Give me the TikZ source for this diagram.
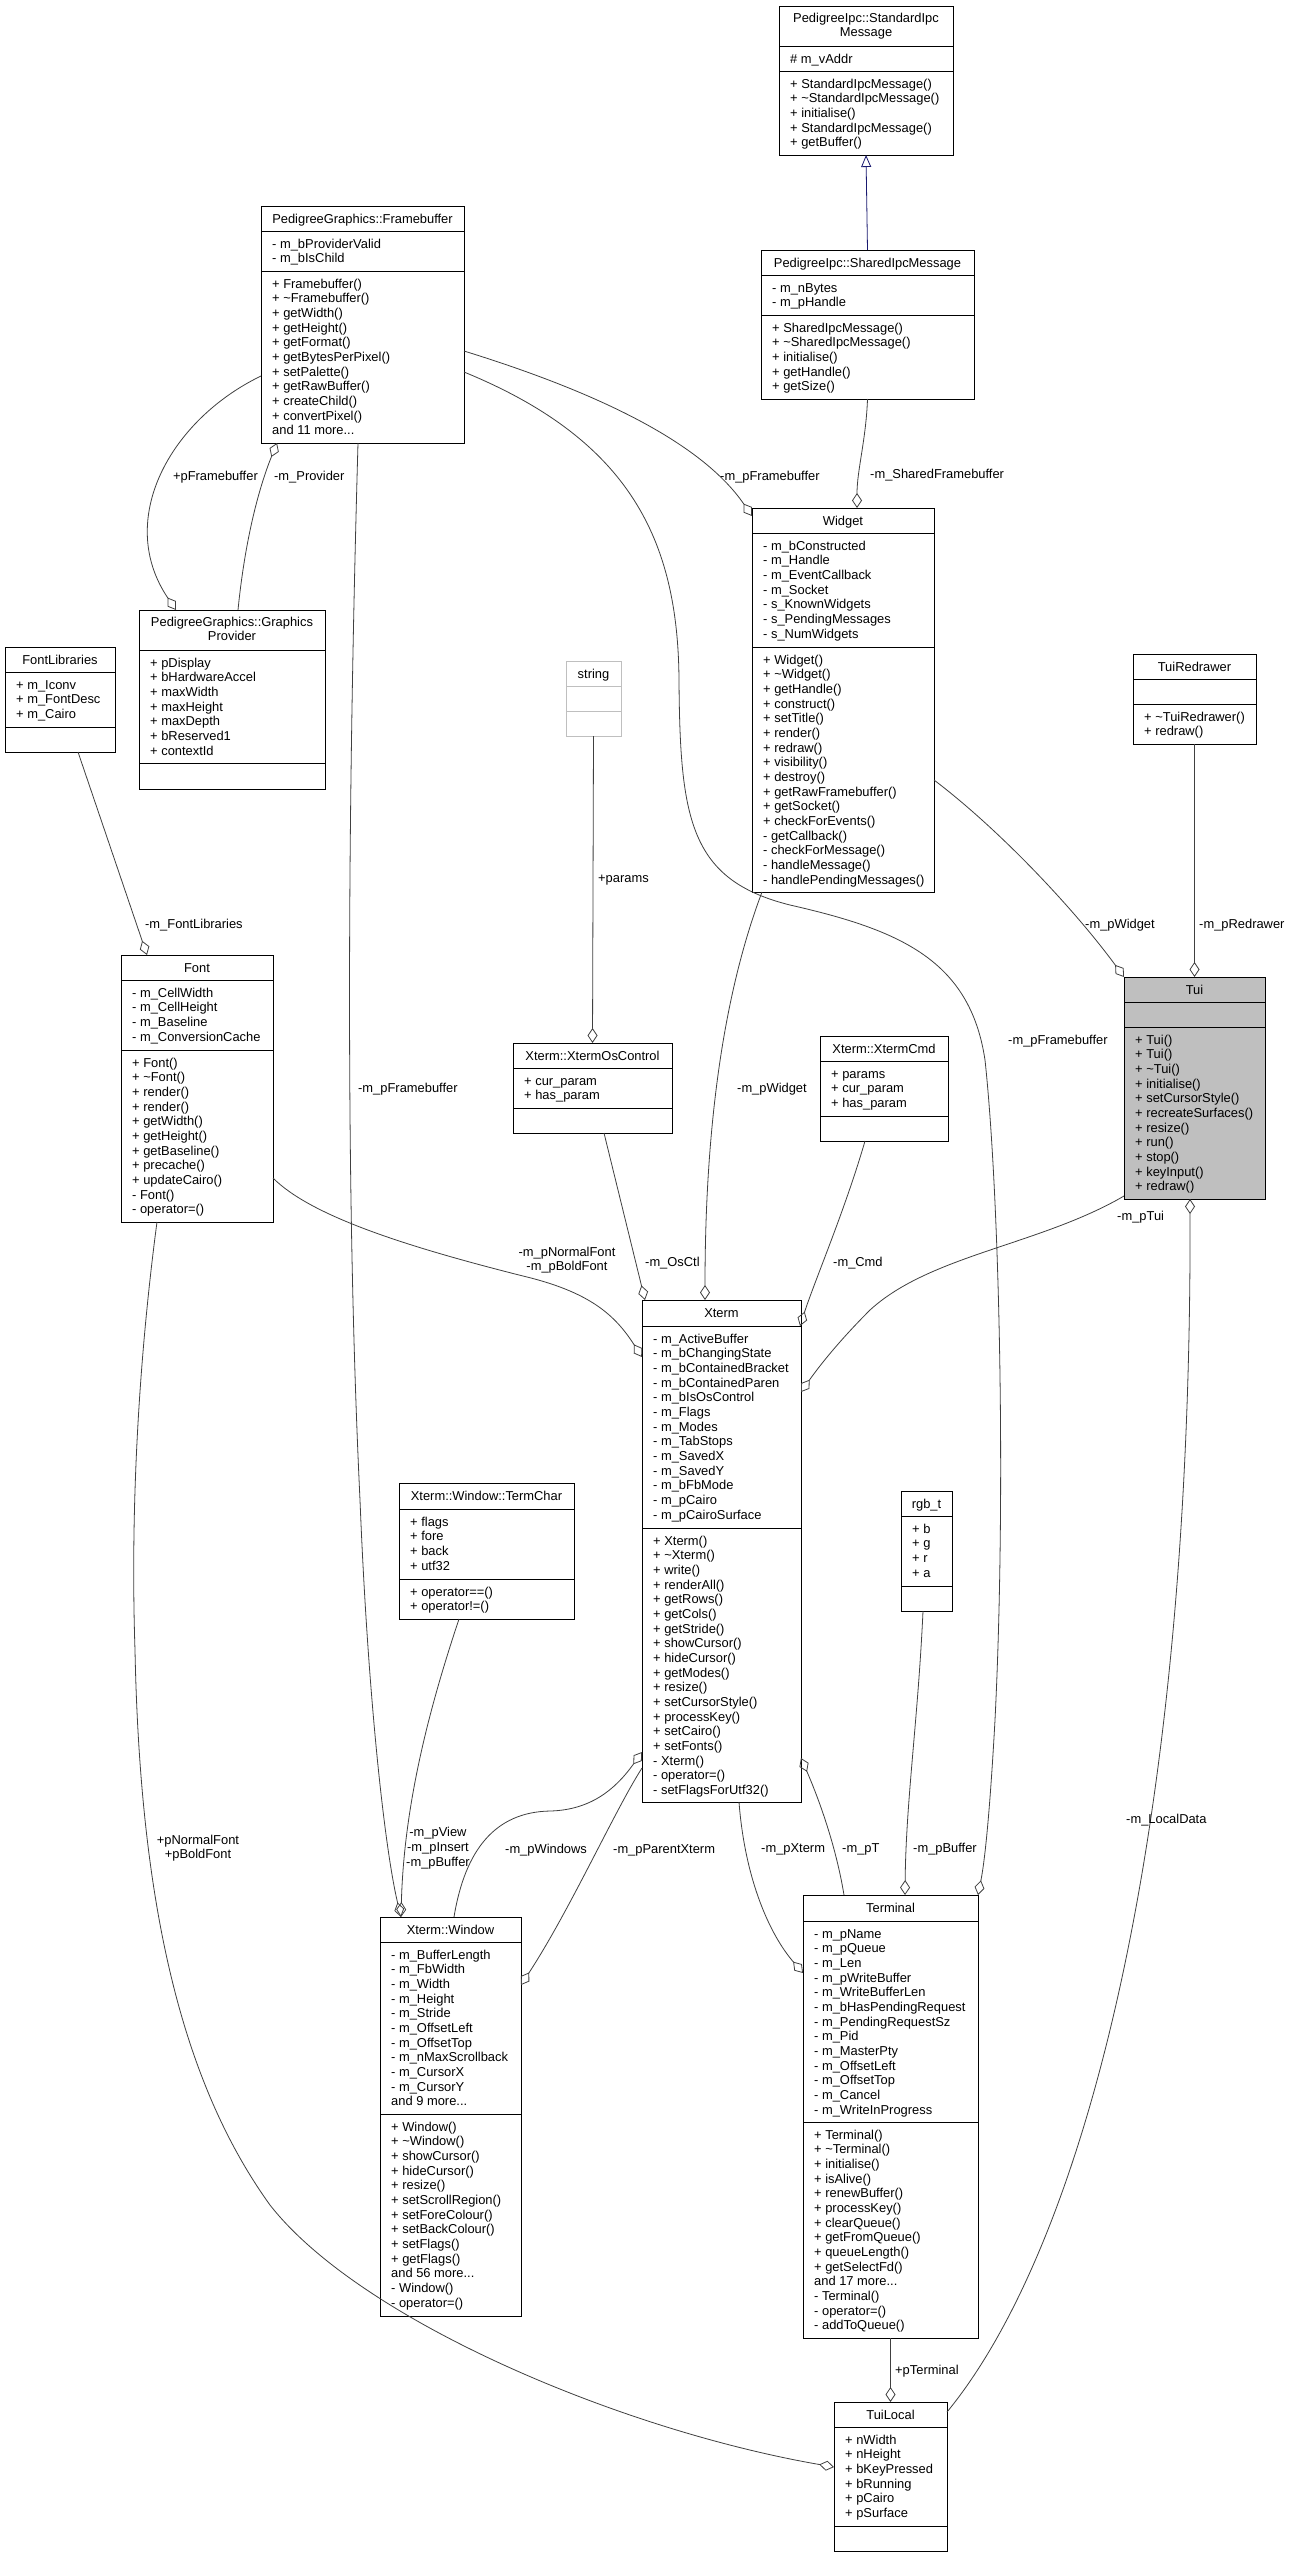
\documentclass[tikz,border=0pt]{standalone}
\usepackage{fontspec}
\setmainfont{Liberation Sans}
\usetikzlibrary{arrows.meta,calc}
\definecolor{edgecol}{HTML}{404040}
\definecolor{inhcol}{HTML}{191970}
\definecolor{tuifill}{HTML}{BFBFBF}
\definecolor{extcol}{HTML}{BFBFBF}
\newcommand{\tdots}{.\kern0pt.\kern0pt.}
% name, x1, y1, x2, s1, s2, y2, border, fill
\newcommand{\cbox}[9]{%
  \node[draw=#8, fill=#9, line width=1pt, inner sep=0pt, outer sep=0pt, anchor=north west,
        minimum width={(#4)-(#2)}, minimum height={(#7)-(#3)}] (#1) at (#2,#3) {};
  \draw[draw=#8, line width=1pt] (#2,#5) -- (#4,#5) (#2,#6) -- (#4,#6);
}
\newcommand{\ctitle}[4]{\node[anchor=base, inner sep=0pt] at ({(#1+#2)/2},#3) {#4};}
\newcommand{\clines}[3]{\foreach \t [count=\i from 0] in {#3} {\node[anchor=base west, inner sep=0pt] at (#1,{#2+\i*14.67}) {\t};}}
\begin{document}
\begin{tikzpicture}[x=1pt,y=-1pt, font=\fontsize{12.9}{14.67}\selectfont,
  agg/.style={draw=edgecol, line width=0.8pt, -{Diamond[open,length=15pt,width=10pt]}},
  inh/.style={draw=inhcol, line width=0.8pt, -{Triangle[open,length=12pt,width=10pt]}},
  lbl/.style={anchor=base west, inner sep=0pt},
  mlbl/.style={anchor=center, align=center, inner sep=0pt}]
\fill[white] (0,0) rectangle (1289,2557);
\path[use as bounding box] (0,0) rectangle (1289,2557);

% ---------- classes ----------
\cbox{std}{779}{6}{953}{46}{71}{155}{black}{white}
\ctitle{779}{953}{22}{PedigreeIpc::StandardIpc}
\ctitle{779}{953}{36.7}{Message}
\clines{790}{63}{\# m\_vAddr}
\clines{790}{88}{+ StandardIpcMessage(), + \textasciitilde StandardIpcMessage(), + initialise(), + StandardIpcMessage(), + getBuffer()}

\cbox{shared}{761}{250}{974}{275}{315}{399}{black}{white}
\ctitle{761}{974}{267}{PedigreeIpc::SharedIpcMessage}
\clines{772}{292}{- m\_nBytes, - m\_pHandle}
\clines{772}{332}{+ SharedIpcMessage(), + \textasciitilde SharedIpcMessage(), + initialise(), + getHandle(), + getSize()}

\cbox{fb}{261}{206}{464}{231}{271}{443}{black}{white}
\ctitle{261}{464}{223}{PedigreeGraphics::Framebuffer}
\clines{272}{248}{- m\_bProviderValid, - m\_bIsChild}
\clines{272}{288}{+ Framebuffer(), + \textasciitilde Framebuffer(), + getWidth(), + getHeight(), + getFormat(), + getBytesPerPixel(), + setPalette(), + getRawBuffer(), + createChild(), + convertPixel(), and 11 more\tdots}

\cbox{gp}{139}{610}{325}{650}{763}{789}{black}{white}
\ctitle{139}{325}{626}{PedigreeGraphics::Graphics}
\ctitle{139}{325}{640.7}{Provider}
\clines{150}{667}{+ pDisplay, + bHardwareAccel, + maxWidth, + maxHeight, + maxDepth, + bReserved1, + contextId}

\cbox{fl}{5}{647}{115}{672}{727}{752}{black}{white}
\ctitle{5}{115}{664}{FontLibraries}
\clines{16}{689}{+ m\_Iconv, + m\_FontDesc, + m\_Cairo}

\cbox{font}{121}{955}{273}{980}{1050}{1222}{black}{white}
\ctitle{121}{273}{972}{Font}
\clines{132}{997}{- m\_CellWidth, - m\_CellHeight, - m\_Baseline, - m\_ConversionCache}
\clines{132}{1067}{+ Font(), + \textasciitilde Font(), + render(), + render(), + getWidth(), + getHeight(), + getBaseline(), + precache(), + updateCairo(), - Font(), - operator=()}

\cbox{str}{566}{661}{621}{686}{711}{736}{extcol}{white}
\ctitle{566}{621}{678}{string}

\cbox{widget}{752}{508}{934}{533}{647}{892}{black}{white}
\ctitle{752}{934}{525}{Widget}
\clines{763}{550}{- m\_bConstructed, - m\_Handle, - m\_EventCallback, - m\_Socket, - s\_KnownWidgets, - s\_PendingMessages, - s\_NumWidgets}
\clines{763}{664}{+ Widget(), + \textasciitilde Widget(), + getHandle(), + construct(), + setTitle(), + render(), + redraw(), + visibility(), + destroy(), + getRawFramebuffer(), + getSocket(), + checkForEvents(), - getCallback(), - checkForMessage(), - handleMessage(), - handlePendingMessages()}

\cbox{redr}{1133}{654}{1256}{679}{704}{744}{black}{white}
\ctitle{1133}{1256}{671}{TuiRedrawer}
\clines{1144}{721}{+ \textasciitilde TuiRedrawer(), + redraw()}

\cbox{tui}{1124}{977}{1265}{1002}{1027}{1199}{black}{tuifill}
\ctitle{1124}{1265}{994}{Tui}
\clines{1135}{1044}{+ Tui(), + Tui(), + \textasciitilde Tui(), + initialise(), + setCursorStyle(), + recreateSurfaces(), + resize(), + run(), + stop(), + keyInput(), + redraw()}

\cbox{osc}{513}{1043}{672}{1068}{1108}{1133}{black}{white}
\ctitle{513}{672}{1060}{Xterm::XtermOsControl}
\clines{524}{1085}{+ cur\_param, + has\_param}

\cbox{cmd}{820}{1036}{948}{1061}{1116}{1141}{black}{white}
\ctitle{820}{948}{1053}{Xterm::XtermCmd}
\clines{831}{1078}{+ params, + cur\_param, + has\_param}

\cbox{xt}{642}{1300}{801}{1326}{1528}{1802}{black}{white}
\ctitle{642}{801}{1317}{Xterm}
\clines{653}{1343}{- m\_ActiveBuffer, - m\_bChangingState, - m\_bContainedBracket, - m\_bContainedParen, - m\_bIsOsControl, - m\_Flags, - m\_Modes, - m\_TabStops, - m\_SavedX, - m\_SavedY, - m\_bFbMode, - m\_pCairo, - m\_pCairoSurface}
\clines{653}{1545}{+ Xterm(), + \textasciitilde Xterm(), + write(), + renderAll(), + getRows(), + getCols(), + getStride(), + showCursor(), + hideCursor(), + getModes(), + resize(), + setCursorStyle(), + processKey(), + setCairo(), + setFonts(), - Xterm(), - operator=(), - setFlagsForUtf32()}

\cbox{tc}{399}{1483}{574}{1509}{1579}{1619}{black}{white}
\ctitle{399}{574}{1500}{Xterm::Window::TermChar}
\clines{410}{1526}{+ flags, + fore, + back, + utf32}
\clines{410}{1596}{+ operator==(), + operator!=()}

\cbox{rgb}{901}{1491}{952}{1516}{1586}{1611}{black}{white}
\ctitle{901}{952}{1508}{rgb\_t}
\clines{912}{1533}{+ b, + g, + r, + a}

\cbox{win}{380}{1917}{521}{1942}{2114}{2316}{black}{white}
\ctitle{380}{521}{1934}{Xterm::Window}
\clines{391}{1959}{- m\_BufferLength, - m\_FbWidth, - m\_Width, - m\_Height, - m\_Stride, - m\_OffsetLeft, - m\_OffsetTop, - m\_nMaxScrollback, - m\_CursorX, - m\_CursorY, and 9 more\tdots}
\clines{391}{2131}{+ Window(), + \textasciitilde Window(), + showCursor(), + hideCursor(), + resize(), + setScrollRegion(), + setForeColour(), + setBackColour(), + setFlags(), + getFlags(), and 56 more\tdots, - Window(), - operator=()}

\cbox{term}{803}{1895}{978}{1921}{2122}{2338}{black}{white}
\ctitle{803}{978}{1912}{Terminal}
\clines{814}{1938}{- m\_pName, - m\_pQueue, - m\_Len, - m\_pWriteBuffer, - m\_WriteBufferLen, - m\_bHasPendingRequest, - m\_PendingRequestSz, - m\_Pid, - m\_MasterPty, - m\_OffsetLeft, - m\_OffsetTop, - m\_Cancel, - m\_WriteInProgress}
\clines{814}{2139}{+ Terminal(), + \textasciitilde Terminal(), + initialise(), + isAlive(), + renewBuffer(), + processKey(), + clearQueue(), + getFromQueue(), + queueLength(), + getSelectFd(), and 17 more\tdots, - Terminal(), - operator=(), - addToQueue()}

\cbox{tl}{834}{2402}{947}{2427}{2526}{2551}{black}{white}
\ctitle{834}{947}{2419}{TuiLocal}
\clines{845}{2444}{+ nWidth, + nHeight, + bKeyPressed, + bRunning, + pCairo, + pSurface}

% ---------- connectors ----------
\draw[inh] (shared.north) -- (std.south);
\draw[agg] (shared.south) .. controls (866,440) and (857,470) .. ($(widget.north west)+(105,0)$);
\node[lbl] at (870,478) {-m\_SharedFramebuffer};

\draw[agg] ($(fb.north west)+(203,145)$) .. controls (590,390) and (700,440) .. ($(widget.north west)+(0,8)$);
\node[lbl] at (720,480) {-m\_pFramebuffer};

\draw[agg] ($(fb.north west)+(0,170)$) .. controls (170,420) and (115,520) .. ($(gp.north west)+(37,0)$);
\node[lbl, anchor=base east] at (258,480) {+pFramebuffer};

\draw[agg] ($(gp.north west)+(99,0)$) .. controls (246,530) and (262,480) .. ($(fb.north west)+(16,237)$);
\node[lbl] at (274,480) {-m\_Provider};

\draw[agg] ($(fb.north west)+(97,237)$) .. controls (345,900) and (348,1250) .. (360,1500) .. controls (368,1700) and (385,1850) .. ($(win.north west)+(21,0)$);
\node[lbl] at (358,1092) {-m\_pFramebuffer};

\draw[agg] ($(tc.north west)+(60,136)$) .. controls (432,1700) and (404,1800) .. ($(win.north west)+(21,0)$);
\node[mlbl] at (438,1848) {-m\_pView\\-m\_pInsert\\-m\_pBuffer};

\draw[agg] ($(win.north west)+(74,0)$) .. controls (465,1850) and (495,1812) .. (550,1811) .. controls (590,1810) and (615,1790) .. ($(xt.north west)+(0,452)$);
\node[lbl] at (505,1853) {-m\_pWindows};

\draw[agg] ($(xt.north west)+(0,468)$) .. controls (615,1810) and (570,1910) .. ($(win.north west)+(141,68)$);
\node[lbl] at (613,1853) {-m\_pParentXterm};

\draw[agg] ($(xt.north west)+(97,502)$) .. controls (745,1880) and (770,1935) .. ($(term.north west)+(0,78)$);
\node[lbl] at (761,1852) {-m\_pXterm};

\draw[agg] ($(term.north west)+(41,0)$) .. controls (835,1840) and (815,1790) .. ($(xt.north west)+(159,458)$);
\node[lbl] at (842,1852) {-m\_pT};

\draw[agg] ($(rgb.north west)+(22,120)$) .. controls (918,1720) and (906,1800) .. ($(term.north west)+(102,0)$);
\node[lbl] at (913,1852) {-m\_pBuffer};

\draw[agg] ($(fb.north west)+(203,166)$) .. controls (630,440) and (678,540) .. (679,680) .. controls (680,820) and (690,880) .. (790,905) .. controls (900,930) and (970,960) .. (985,1060) .. controls (1000,1200) and (1006,1500) .. (995,1720) .. controls (990,1810) and (985,1860) .. ($(term.north west)+(175,0)$);
\node[lbl] at (1008,1044) {-m\_pFramebuffer};

\draw[agg] ($(widget.north west)+(182,272)$) .. controls (1000,830) and (1075,910) .. (tui.north west);
\node[lbl] at (1085,928) {-m\_pWidget};

\draw[agg] (redr.south) -- (tui.north);
\node[lbl] at (1199,928) {-m\_pRedrawer};

\draw[agg] ($(tl.north west)+(113,10)$) .. controls (1080,2250) and (1192,1850) .. ($(tui.north west)+(66,222)$);
\node[lbl] at (1126,1823) {-m\_LocalData};

\draw[agg] (term.south) -- (tl.north);
\node[lbl] at (895,2374) {+pTerminal};

\draw[agg] ($(font.north west)+(36,267)$) .. controls (140,1350) and (130,1500) .. (135,1650) .. controls (140,1900) and (180,2080) .. (270,2205) .. controls (360,2320) and (620,2430) .. ($(tl.north west)+(0,65)$);
\node[mlbl] at (198,1848) {+pNormalFont\\+pBoldFont};

\draw[agg] ($(fl.north west)+(73,105)$) -- ($(font.north west)+(26,0)$);
\node[lbl] at (145,928) {-m\_FontLibraries};

\draw[agg] ($(font.north west)+(152,223)$) .. controls (310,1215) and (400,1245) .. (523,1276) .. controls (590,1292) and (615,1315) .. ($(xt.north west)+(0,57)$);
\node[mlbl] at (567,1260) {-m\_pNormalFont\\-m\_pBoldFont};

\draw[agg] (str.south) -- (osc.north);
\node[lbl] at (598,882) {+params};

\draw[agg] ($(osc.north west)+(91,90)$) -- ($(xt.north west)+(3,0)$);
\node[lbl] at (645,1266) {-m\_OsCtl};

\draw[agg] ($(widget.north west)+(10,384)$) .. controls (725,990) and (705,1120) .. ($(xt.north west)+(63,0)$);
\node[lbl] at (737,1092) {-m\_pWidget};

\draw[agg] ($(cmd.north west)+(45,105)$) .. controls (845,1210) and (815,1280) .. ($(xt.north west)+(158,26)$);
\node[lbl] at (833,1266) {-m\_Cmd};

\draw[agg] ($(tui.north west)+(0,219)$) .. controls (1040,1245) and (930,1255) .. (870,1310) .. controls (840,1340) and (820,1365) .. ($(xt.north west)+(159,92)$);
\node[lbl] at (1117,1220) {-m\_pTui};
\end{tikzpicture}
\end{document}
